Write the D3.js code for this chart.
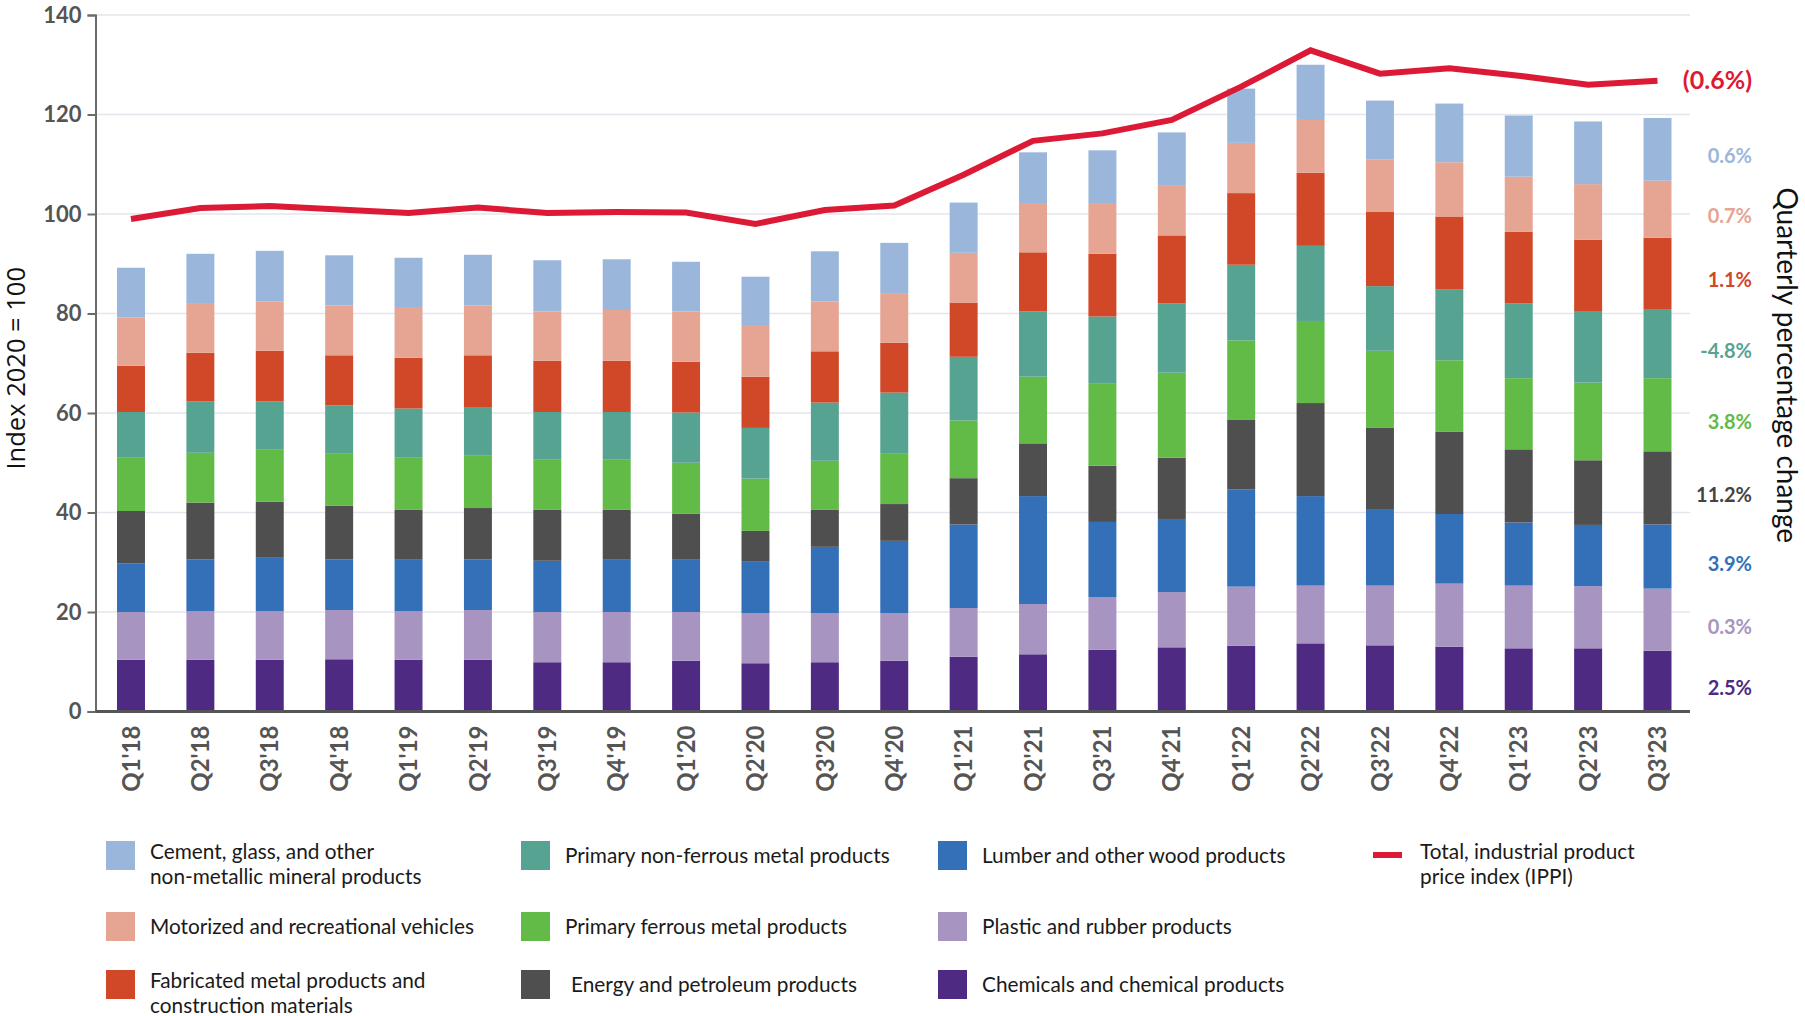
<!DOCTYPE html>
<html>
<head>
<meta charset="utf-8">
<script src="https://cdn.jsdelivr.net/npm/d3@7"></script>
<style>
  html, body { margin: 0; padding: 0; background: #ffffff; }
  svg { display: block; }
</style>
</head>
<body>
<div id="chart"></div>
<script>
// Quarters shown on the category axis
const quarters = ["Q1'18","Q2'18","Q3'18","Q4'18","Q1'19","Q2'19","Q3'19","Q4'19",
  "Q1'20","Q2'20","Q3'20","Q4'20","Q1'21","Q2'21","Q3'21","Q4'21",
  "Q1'22","Q2'22","Q3'22","Q4'22","Q1'23","Q2'23","Q3'23"];

// Component contributions (index points, 2020 = 100), stacked bottom to top
const chemicals = [10.4,10.4,10.4,10.5,10.4,10.4,9.9,9.9,10.2,9.7,9.9,10.2,11.0,11.5,12.4,12.9,13.2,13.7,13.3,13.0,12.7,12.7,12.2];
const plastic   = [9.6,9.8,9.8,9.9,9.8,10.0,10.1,10.1,9.8,10.1,9.9,9.6,9.8,10.1,10.6,11.1,11.9,11.6,12.0,12.7,12.6,12.5,12.5];
const lumber    = [9.8,10.4,10.7,10.2,10.3,10.2,10.3,10.5,10.5,10.3,13.3,14.5,16.8,21.7,15.1,14.7,19.5,18.0,15.4,14.0,12.7,12.3,12.9];
const energy    = [10.5,11.4,11.3,10.8,10.1,10.3,10.3,10.1,9.3,6.2,7.5,7.4,9.3,10.6,11.3,12.3,14.0,18.7,16.3,16.5,14.7,13.0,14.7];
const ferrous   = [10.7,10.0,10.4,10.4,10.4,10.5,10.0,10.0,10.2,10.5,9.8,10.1,11.6,13.4,16.6,17.1,16.0,16.5,15.5,14.4,14.3,15.6,14.7];
const nonFerrous= [9.2,10.3,9.7,9.7,9.9,9.8,9.6,9.6,10.1,10.2,11.7,12.3,12.8,13.1,13.4,13.9,15.2,15.1,13.0,14.2,15.0,14.4,13.9];
const fabricated= [9.3,9.8,10.2,10.1,10.2,10.4,10.3,10.3,10.2,10.3,10.3,10.0,10.9,11.9,12.6,13.7,14.4,14.7,15.0,14.7,14.4,14.3,14.3];
const motorized = [9.7,10.0,9.9,10.0,10.2,10.0,9.9,10.2,10.1,10.2,10.0,10.0,10.0,9.9,10.2,10.1,10.1,10.6,10.5,10.9,11.1,11.2,11.5];
const cement    = [10.0,9.9,10.2,10.1,9.9,10.2,10.3,10.2,10.0,9.9,10.1,10.1,10.1,10.2,10.6,10.6,10.9,11.1,11.8,11.8,12.3,12.6,12.6];

// Total industrial product price index (IPPI)
const ippiTotal = [99.0,101.2,101.6,100.9,100.2,101.3,100.2,100.4,100.3,98.0,100.8,101.7,
  107.9,114.7,116.2,118.9,125.6,132.9,128.2,129.3,127.8,126.0,126.8];

// Latest quarterly percentage change, per component (same order as the stack) and total
const componentChange = ["2.5%","0.3%","3.9%","11.2%","3.8%","-4.8%","1.1%","0.7%","0.6%"];
const totalChange = "(0.6%)";

const seriesNames = [
  "Chemicals and chemical products",
  "Plastic and rubber products",
  "Lumber and other wood products",
  "Energy and petroleum products",
  "Primary ferrous metal products",
  "Primary non-ferrous metal products",
  "Fabricated metal products and\nconstruction materials",
  "Motorized and recreational vehicles",
  "Cement, glass, and other\nnon-metallic mineral products"
];
const totalName = "Total, industrial product\nprice index (IPPI)";

const yTicks = [0, 20, 40, 60, 80, 100, 120, 140];

// ---- chart setup ----
const W = 1805, H = 1016;
const colors = ["#4f2a82","#a794c1","#3470b8","#4f4f4f","#62ba47","#57a392","#d04827","#e6a493","#9ab7db"];
const lineColor = "#dc1a35";
const keys = ["chemicals","plastic","lumber","energy","ferrous","nonFerrous","fabricated","motorized","cement"];
const valueArrays = [chemicals, plastic, lumber, energy, ferrous, nonFerrous, fabricated, motorized, cement];

const table = quarters.map((q, i) => {
  const row = { quarter: q, total: ippiTotal[i] };
  keys.forEach((k, j) => { row[k] = valueArrays[j][i]; });
  return row;
});

const svg = d3.select("#chart").append("svg")
  .attr("width", W).attr("height", H);

const plotLeft = 95.5, plotRight = 1690, plotTop = 15, plotBottom = 711.5;

const x = d3.scaleBand()
  .domain(quarters)
  .range([plotLeft, 1693])
  .paddingInner(0.597)
  .paddingOuter(0.31);

const y = d3.scaleLinear().domain([0, 140]).range([plotBottom, plotTop]);

// gridlines
svg.append("g").selectAll("line")
  .data(yTicks.filter(t => t > 0))
  .join("line")
  .attr("x1", plotLeft).attr("x2", plotRight)
  .attr("y1", d => y(d)).attr("y2", d => y(d))
  .attr("stroke", "#e5e5ee").attr("stroke-width", 1.5);

// stacked bars
const stacked = d3.stack().keys(keys)(table);
svg.append("g").selectAll("g")
  .data(stacked)
  .join("g")
  .attr("fill", (d, i) => colors[i])
  .selectAll("rect")
  .data(d => d)
  .join("rect")
  .attr("x", d => x(d.data.quarter))
  .attr("width", x.bandwidth())
  .attr("y", d => y(d[1]))
  .attr("height", d => y(d[0]) - y(d[1]));

// y axis
const yAxis = d3.axisLeft(y).tickValues(yTicks).tickSize(8).tickPadding(6).tickFormat(d3.format("d"));
const yg = svg.append("g").attr("transform", `translate(${plotLeft},0)`).call(yAxis);
yg.select(".domain").attr("stroke", "#6a6a6a").attr("stroke-width", 2);
yg.selectAll(".tick line").attr("stroke", "#6a6a6a").attr("stroke-width", 2);
yg.selectAll(".tick text")
  .attr("fill", "#555")
  .style("font-family", "Lato")
  .style("font-weight", "700")
  .style("font-size", "22px");

// x axis baseline and labels
svg.append("line")
  .attr("x1", plotLeft).attr("x2", plotRight)
  .attr("y1", y(0)).attr("y2", y(0))
  .attr("stroke", "#555").attr("stroke-width", 3);

svg.append("g").selectAll("text")
  .data(quarters)
  .join("text")
  .attr("transform", d => `translate(${x(d) + x.bandwidth() / 2},${y(0) + 14}) rotate(-90)`)
  .attr("text-anchor", "end")
  .attr("dy", "0.36em")
  .attr("fill", "#555")
  .style("font-family", "Lato")
  .style("font-weight", "700")
  .style("font-size", "24px")
  .text(d => d);

// total IPPI line
const line = d3.line()
  .x(d => x(d.quarter) + x.bandwidth() / 2)
  .y(d => y(d.total));
svg.append("path")
  .datum(table)
  .attr("d", line)
  .attr("fill", "none")
  .attr("stroke", lineColor)
  .attr("stroke-width", 6)
  .attr("stroke-linejoin", "miter");

// latest change labels
const labelX = 1752;
const last = stacked.map(s => s[s.length - 1]);
svg.append("g").selectAll("text")
  .data(last)
  .join("text")
  .attr("x", labelX)
  .attr("y", (d) => y((d[0] + d[1]) / 2) + 7)
  .attr("dy", "0.35em")
  .attr("text-anchor", "end")
  .attr("fill", (d, i) => i === 3 ? "#444" : colors[i])
  .style("font-family", "Lato")
  .style("font-weight", "700")
  .style("font-size", "20px")
  .text((d, i) => componentChange[i]);

svg.append("text")
  .attr("x", labelX)
  .attr("y", y(ippiTotal[ippiTotal.length - 1]))
  .attr("dy", "0.35em")
  .attr("text-anchor", "end")
  .attr("fill", lineColor)
  .style("font-family", "Lato")
  .style("font-weight", "700")
  .style("font-size", "25px")
  .text(totalChange);

// axis titles
svg.append("text")
  .attr("transform", `translate(16,${(plotTop + plotBottom) / 2 + 5}) rotate(-90)`)
  .attr("text-anchor", "middle")
  .attr("dy", "0.35em")
  .attr("fill", "#111")
  .style("font-family", "Open Sans")
  .style("font-size", "25.5px")
  .text("Index 2020 = 100");

svg.append("text")
  .attr("transform", `translate(1787,${(plotTop + plotBottom) / 2 + 2}) rotate(90)`)
  .attr("text-anchor", "middle")
  .attr("dy", "0.35em")
  .attr("fill", "#111")
  .style("font-family", "Lato")
  .style("font-size", "28px")
  .text("Quarterly percentage change");

// legend
const legendCols = [106, 521, 938];
const legendRows = [841, 912, 970];
// arrangement: column-major, top to bottom
const legendOrder = [
  [8, 7, 6],
  [5, 4, 3],
  [2, 1, 0]
];
const lg = svg.append("g").style("font-family", "Lato").style("font-size", "20.8px").attr("fill", "#1a1a1a");

function legendText(g, tx, top, text) {
  const lines = text.split("\n");
  const t = g.append("text").attr("x", tx);
  if (lines.length === 1) {
    t.attr("y", top + 14.5).attr("dy", "0.35em").text(lines[0]);
  } else {
    lines.forEach((ln, k) => {
      t.append("tspan").attr("x", tx).attr("y", top + 11 + k * 25).attr("dy", "0.35em").text(ln);
    });
  }
}

legendOrder.forEach((col, c) => {
  col.forEach((si, r) => {
    lg.append("rect")
      .attr("x", legendCols[c]).attr("y", legendRows[r])
      .attr("width", 29).attr("height", 29)
      .attr("fill", colors[si]);
    legendText(lg, legendCols[c] + (si === 3 ? 50 : 44), legendRows[r], seriesNames[si]);
  });
});

lg.append("rect")
  .attr("x", 1373).attr("y", 852).attr("width", 29).attr("height", 6)
  .attr("fill", lineColor);
legendText(lg, 1420, legendRows[0], totalName);
</script>
</body>
</html>
